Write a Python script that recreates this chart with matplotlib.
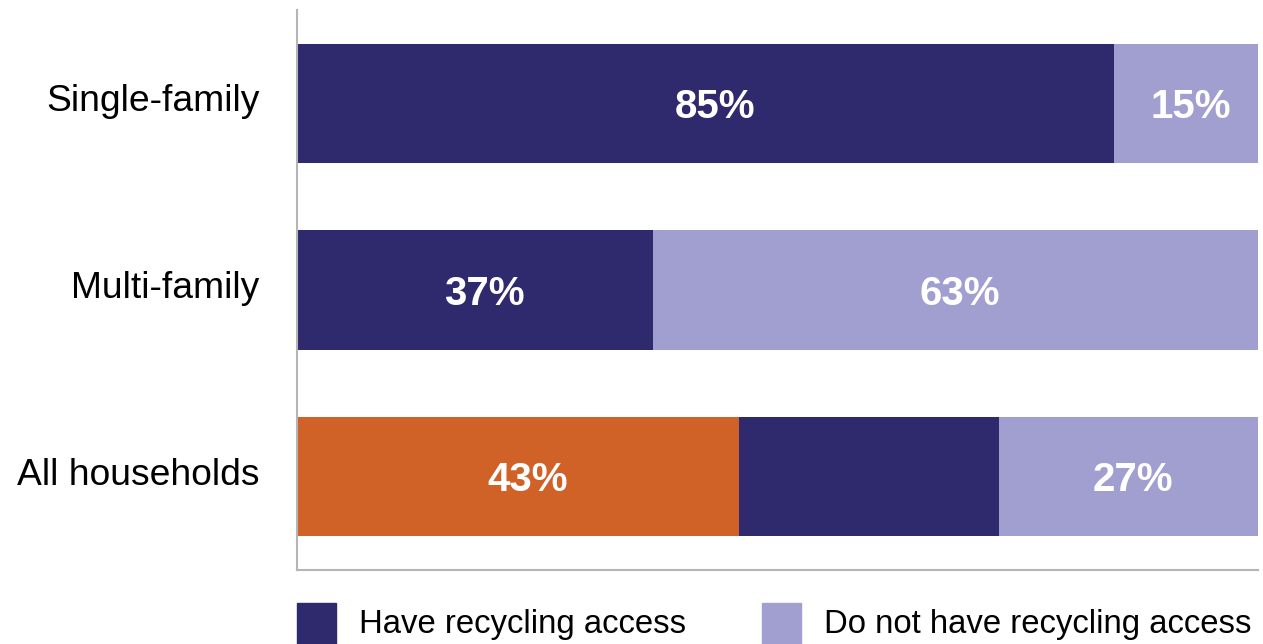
import numpy as np
from matplotlib import pyplot as plt
from matplotlib.patches import Rectangle
from matplotlib.transforms import offset_copy

plt.rcParams['font.family'] = ['Liberation Sans', 'DejaVu Sans']

categories = ['Single-family', 'Multi-family', 'All households']
have_access = [85, 37, 73]       # dark navy, end of the bar
no_access = [15, 63, 27]         # light lavender
highlight = [0, 0, 46]           # orange part drawn on the last bar
have_labels = ['85%', '37%', '43%']
no_labels = ['15%', '63%', '27%']

navy = '#2f2a6e'
lavender = '#a09fd0'
orange = '#d06127'

fig = plt.figure(figsize=(12.63, 6.44), dpi=100)
ax = fig.add_axes([297 / 1263, 74 / 644, 961 / 1263, 560 / 644])

y = np.arange(len(categories))
h = 0.64
ax.barh(y, have_access, height=h, color=navy)
ax.barh(y, no_access, left=have_access, height=h, color=lavender)
ax.barh(y, highlight, height=h, color=orange)

for i in range(len(categories)):
    # label of the first segment sits in the orange part if there is one
    first = highlight[i] if highlight[i] > 0 else have_access[i]
    ax.text(first / 2 + 1, y[i] + 0.02, have_labels[i], ha='center', va='center',
            color='white', fontsize=29, fontweight='bold')
    ax.text(have_access[i] + no_access[i] / 2 + 0.5, y[i] + 0.02, no_labels[i],
            ha='center', va='center', color='white', fontsize=29, fontweight='bold')

ax.set_xlim(0, 100)
ax.set_ylim(2.5, -0.5)
ax.set_yticks(y)
ax.set_yticklabels(categories, fontsize=26.8)
ax.tick_params(axis='y', length=0, pad=27)
for lab in ax.get_yticklabels():
    lab.set_transform(offset_copy(lab.get_transform(), fig=fig, y=4, units='points'))
ax.set_xticks([])
for s in ['top', 'right']:
    ax.spines[s].set_visible(False)
for s in ['left', 'bottom']:
    ax.spines[s].set_color('#b5b5b5')
    ax.spines[s].set_linewidth(1.5)

# legend drawn by hand at the bottom
leg = [(297, navy, 'Have recycling access'), (762, lavender, 'Do not have recycling access')]
for x0, c, t in leg:
    fig.add_artist(Rectangle((x0 / 1263, -0.01), 39 / 1263, 47 / 644,
                             transform=fig.transFigure, color=c))
    fig.text((x0 + 62) / 1263, 19 / 644, t, fontsize=23.7, va='center', ha='left')

plt.savefig('out.png')
